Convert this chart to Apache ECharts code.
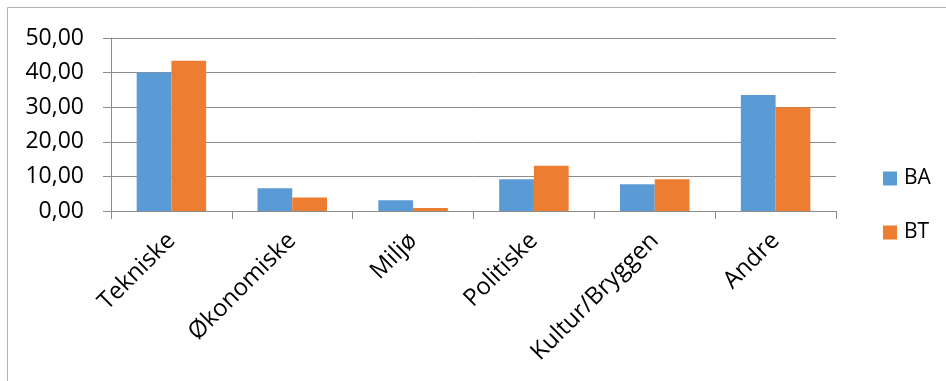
<!DOCTYPE html>
<html>
<head>
<meta charset="utf-8">
<script src="https://cdn.jsdelivr.net/npm/echarts@6/dist/echarts.min.js"></script>
<style>html,body{margin:0;padding:0;background:#fff;}#c{width:946px;height:381px;}</style>
</head>
<body>
<div id="c"></div>
<script>
var categories = ['Tekniske', 'Økonomiske', 'Miljø', 'Politiske', 'Kultur/Bryggen', 'Andre'];
var baValues = [40.0, 6.6, 3.1, 9.2, 7.7, 33.5];
var btValues = [43.4, 3.9, 0.9, 13.1, 9.2, 30.0];
var seriesNames = ['BA', 'BT'];

var FONT = 'Open Sans';
var gridColor = '#8c8c8c';
var chart = echarts.init(document.getElementById('c'), null, {renderer: 'canvas'});
chart.setOption({
  animation: false,
  backgroundColor: '#ffffff',
  textStyle: {fontFamily: FONT},
  graphic: [{
    type: 'rect', silent: true, z: 100,
    shape: {x: 7.5, y: 7.5, width: 1000, height: 1000},
    style: {fill: 'none', stroke: '#b3b3b3', lineWidth: 1}
  }],
  grid: {left: 111, right: 110, top: 38, bottom: 170, containLabel: false},
  legend: {
    orient: 'vertical', left: 878, top: 163,
    itemWidth: 14, itemHeight: 14, itemGap: 33,
    icon: 'rect',
    textStyle: {fontFamily: FONT, fontSize: 21, color: '#000', padding: [0, 0, 0, 2]},
    data: seriesNames
  },
  xAxis: {
    type: 'category',
    data: categories,
    axisLine: {show: true, lineStyle: {color: gridColor, width: 1}},
    axisTick: {show: true, length: 8, lineStyle: {color: gridColor}},
    axisLabel: {rotate: 45, margin: 26, fontFamily: FONT, fontSize: 24, color: '#000', interval: 0}
  },
  yAxis: {
    type: 'value', min: 0, max: 50, interval: 10,
    axisLine: {show: true, lineStyle: {color: gridColor, width: 1}},
    axisTick: {show: true, length: 8, lineStyle: {color: gridColor}},
    splitLine: {show: true, lineStyle: {color: gridColor, width: 1}},
    axisLabel: {
      margin: 27, fontFamily: FONT, fontSize: 23, color: '#000',
      formatter: function (v) { return v.toFixed(2).replace('.', ','); }
    }
  },
  series: [
    {name: seriesNames[0], type: 'bar', data: baValues, barGap: '0%', barCategoryGap: '42.5%',
     itemStyle: {color: '#5B9BD5'}},
    {name: seriesNames[1], type: 'bar', data: btValues, barGap: '0%', barCategoryGap: '42.5%',
     itemStyle: {color: '#ED7D31'}}
  ]
});
</script>
</body>
</html>
